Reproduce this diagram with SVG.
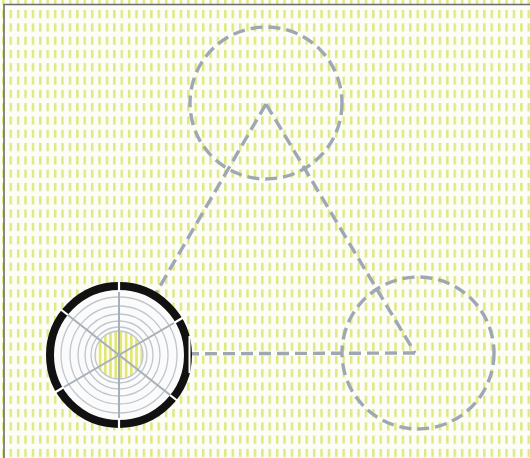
<svg xmlns="http://www.w3.org/2000/svg" width="530" height="458" viewBox="0 0 530 458">
<defs>
<pattern id="bg" patternUnits="userSpaceOnUse" x="9.5" y="10" width="7.4" height="13.3">
<rect x="0" y="0" width="2.5" height="8.2" fill="#e0e883"/>
</pattern>
<pattern id="stripes" patternUnits="userSpaceOnUse" x="0" y="0" width="5.2" height="10">
<rect x="0" y="0" width="2.6" height="10" fill="#e2e675"/>
</pattern>
<style>
.dash{fill:none;stroke:#9ea8b3;stroke-width:3.4;stroke-dasharray:12 6;stroke-linecap:butt}
.ring{fill:none;stroke:#bfc6cd;stroke-width:1.3}
.spoke{stroke:#a6b0b9;stroke-width:2}
.gap{stroke:#ffffff;stroke-width:2.2}
</style>
</defs>
<rect x="0" y="0" width="530" height="458" fill="#fdfdf7"/>
<rect x="0" y="0" width="530" height="458" fill="url(#bg)"/>
<path d="M4 458 V4.5 H530" fill="none" stroke="#6e6e6e" stroke-width="1.6"/>
<g id="connectors">
<path class="dash" d="M266 104 L120 355"/>
<path class="dash" d="M266 104 L415 353"/>
<path class="dash" d="M415 353 L120 354"/>
</g>
<g id="node-top">
<circle class="dash" cx="266" cy="103" r="76"/>
</g>
<g id="node-right">
<circle class="dash" cx="418" cy="353" r="76"/>
</g>
<g id="node-left">
<circle cx="119" cy="355" r="69" fill="#fbfbfb"/>
<circle cx="119" cy="355" r="24" fill="#fdfdf4"/>
<circle cx="119" cy="355" r="24" fill="url(#stripes)"/>
<circle class="ring" cx="119" cy="355" r="58"/>
<circle class="ring" cx="119" cy="355" r="49"/>
<circle class="ring" cx="119" cy="355" r="41"/>
<circle class="ring" cx="119" cy="355" r="34"/>
<circle class="ring" cx="119" cy="355" r="28"/>
<circle class="ring" cx="119" cy="355" r="24"/>
<line class="spoke" x1="119" y1="286" x2="119" y2="424"/>
<line class="spoke" x1="64" y1="312" x2="174" y2="398"/>
<line class="spoke" x1="59" y1="390" x2="179" y2="320"/>
<circle cx="119" cy="355" r="69" fill="none" stroke="#111111" stroke-width="8"/>
<line class="gap" x1="119" y1="281" x2="119" y2="292"/>
<line class="gap" x1="119" y1="418" x2="119" y2="429"/>
<line class="gap" x1="59" y1="308" x2="68" y2="315"/>
<line class="gap" x1="170" y1="395" x2="179" y2="402"/>
<line class="gap" x1="54" y1="393" x2="64" y2="387"/>
<line class="gap" x1="174" y1="323" x2="184" y2="317"/>
<line x1="189.5" y1="336" x2="189.5" y2="373" stroke="#ffffff" stroke-width="2"/>
</g>
</svg>
